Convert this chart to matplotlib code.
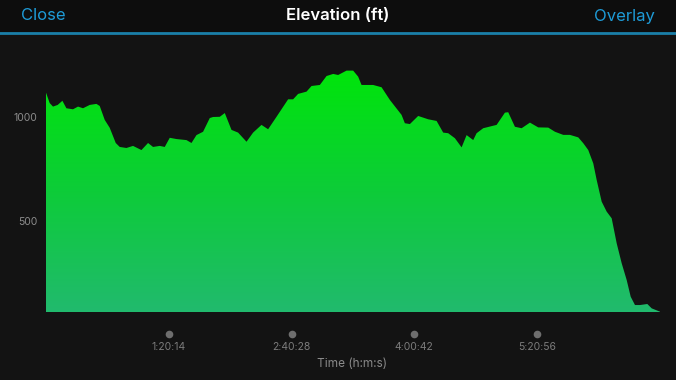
import matplotlib
matplotlib.use("Agg")
import matplotlib.pyplot as plt
import numpy as np
from matplotlib.patches import Rectangle
from matplotlib.colors import LinearSegmentedColormap

plt.rcParams['font.family'] = ['Inter', 'DejaVu Sans']

# Data: time (s) and elevation (ft)
time_s = [0, 145, 275, 459, 643, 800, 1059, 1256, 1452, 1714, 1977, 2107, 2303, 2499,
          2735, 2891, 3154, 3413, 3743, 4002, 4198, 4461, 4657, 4853, 5116, 5508, 5705,
          5901, 6160, 6423, 6552, 6815, 7011, 7274, 7533, 7863, 8122, 8451, 8710, 9040,
          9495, 9691, 9887, 10217, 10413, 10739, 11002, 11261, 11457, 11786, 12045, 12241,
          12374, 12829, 13159, 13485, 13944, 14073, 14270, 14595, 14988, 15317, 15576,
          15772, 16035, 16298, 16494, 16753, 16886, 17145, 17538, 17671, 17997, 18126,
          18389, 18652, 18978, 19303, 19696, 19959, 20284, 20547, 20873, 21069, 21265,
          21461, 21595, 21791, 21987, 22183, 22379, 22575, 22772, 22929, 23097, 23294,
          23580, 23753, 24078]
elev_ft = [1117, 1067, 1050, 1058, 1078, 1042, 1037, 1050, 1042, 1058, 1063, 1053, 986, 948,
           875, 856, 851, 861, 841, 875, 856, 861, 856, 900, 894, 889, 875,
           913, 929, 995, 1000, 1001, 1019, 938, 925, 881, 925, 962, 941, 1001,
           1085, 1085, 1111, 1122, 1149, 1154, 1197, 1207, 1202, 1223, 1223, 1194,
           1154, 1154, 1143, 1082, 1010, 970, 966, 1005, 989, 981, 925,
           922, 898, 854, 913, 889, 922, 946, 958, 962, 1021, 1023,
           953, 946, 973, 950, 949, 929, 914, 914, 902, 874, 841,
           777, 697, 593, 545, 513, 393, 297, 216, 136, 96, 96,
           101, 80, 64]
tick_times = [4814, 9628, 14442, 19256]
tick_labels = ["1:20:14", "2:40:28", "4:00:42", "5:20:56"]
y_ticks = [500, 1000]

W, H = 676, 380
fig = plt.figure(figsize=(W / 100, H / 100), dpi=100)
fig.patch.set_facecolor('#131313')

# header
fig.patches.append(Rectangle((0, (H - 32) / H), 1, 32 / H, transform=fig.transFigure,
                             facecolor='#0d0d0d', edgecolor='none', zorder=0))
fig.add_artist(plt.Line2D([0, 1], [(H - 33) / H, (H - 33) / H], transform=fig.transFigure,
                          color='#1a7fa9', lw=2))
fig.text(338 / W, 1 - 16 / H, "Elevation (ft)", color='white', fontsize=12,
         fontweight='semibold', ha='center', va='center')
fig.text(21 / W, 1 - 16 / H, "Close", color='#1e9bd7', fontsize=12, ha='left', va='center')
fig.text(655 / W, 1 - 16 / H, "Overlay", color='#1e9bd7', fontsize=12, ha='right', va='center')

ax_left, ax_right = 46, 660
ax_top, ax_bot = 60, 312
ax = fig.add_axes([ax_left / W, 1 - ax_bot / H, (ax_right - ax_left) / W, (ax_bot - ax_top) / H])
ax.set_facecolor('none')
ymin, ymax = 62.5, 1274
xmax = time_s[-1]
ax.set_xlim(0, xmax)
ax.set_ylim(ymin, ymax)
for s in ax.spines.values():
    s.set_visible(False)

t = np.array(time_s, dtype=float)
e = np.array(elev_ft, dtype=float)
poly = ax.fill_between(t, e, ymin, color='none', lw=0)
cmap = LinearSegmentedColormap.from_list('g', [(0.13, 0.73, 0.43), (0.05, 0.80, 0.22), (0.0, 0.90, 0.04)])
grad = np.linspace(0, 1, 256).reshape(-1, 1)
im = ax.imshow(grad, extent=[0, xmax, ymin, 1230], origin='lower', aspect='auto', cmap=cmap,
               interpolation='bicubic', zorder=1)
im.set_clip_path(poly.get_paths()[0], transform=ax.transData)
ax.set_ylim(ymin, ymax)
ax.set_xlim(0, xmax)

ax.set_yticks(y_ticks)
ax.set_yticklabels([str(v) for v in y_ticks])
ax.tick_params(axis='y', length=0, pad=6, labelcolor='#8c8c8c', labelsize=7.5)
ax.set_xticks([])

# x tick dots and labels
for tt, lab in zip(tick_times, tick_labels):
    ax.plot([tt], [0], transform=ax.get_xaxis_transform(), marker='o', ms=5.5,
            color='#6e6e6e', mec='none', clip_on=False)
    ax.annotate(lab, (tt, 0), xycoords=('data', 'axes fraction'), xytext=(0, -35),
                textcoords='offset pixels', ha='center', va='center', color='#7c7c7c', fontsize=7.5)
# dots positioned via offset
for line in ax.lines:
    line.set_transform(line.get_transform() + matplotlib.transforms.Affine2D().translate(0, -22))

fig.text(352 / W, 1 - 364 / H, "Time (h:m:s)", color='#8a8a8a', fontsize=8.5, ha='center', va='center')

fig.savefig('out.png', dpi=100, facecolor=fig.get_facecolor())
